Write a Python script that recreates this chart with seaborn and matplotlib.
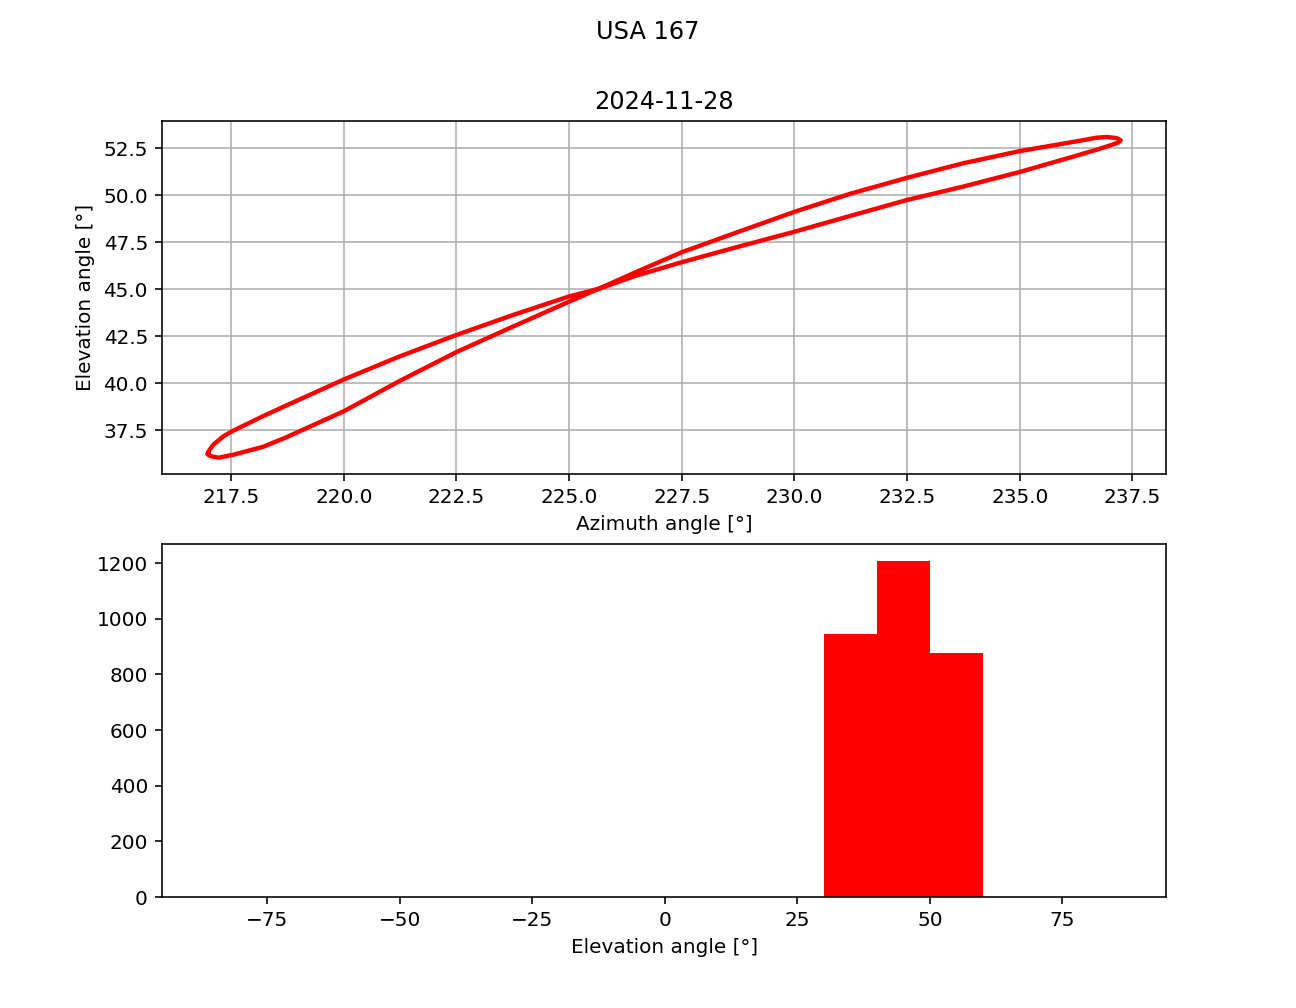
import matplotlib
matplotlib.use("Agg")
import matplotlib.pyplot as plt
import seaborn as sns

# Satellite track (azimuth, elevation), in path order
azimuth = [216.99, 217.02, 217.11, 217.33, 217.55, 218.21, 218.80, 220.00, 221.23,
           222.50, 223.74, 225.00, 225.65,
           226.47, 227.50, 228.75, 230.00, 231.25, 232.50, 233.74, 235.00, 236.19,
           236.70, 237.00, 237.18, 237.24, 237.15, 236.93, 236.70, 236.19, 235.00,
           233.74, 232.50, 231.25, 230.00, 228.75, 227.50, 226.47, 225.65,
           225.00, 223.74, 222.50, 221.23, 220.00, 218.70, 218.21, 217.55, 217.22,
           217.05, 216.98, 216.99]
elevation = [36.29, 36.45, 36.74, 37.18, 37.48, 38.25, 38.90, 40.20, 41.42,
             42.57, 43.62, 44.62, 45.02,
             45.71, 46.44, 47.26, 48.06, 48.91, 49.75, 50.46, 51.24, 52.06,
             52.42, 52.65, 52.80, 52.92, 53.04, 53.10, 53.06, 52.84, 52.35,
             51.70, 50.93, 50.09, 49.12, 48.05, 46.97, 45.90, 45.02,
             44.34, 43.00, 41.66, 40.11, 38.51, 37.10, 36.62, 36.20, 36.04,
             36.12, 36.22, 36.29]

# Elevation histogram (10-degree bins from -90 to 90)
bin_edges = list(range(-90, 100, 10))
bin_counts = [0, 0, 0, 0, 0, 0, 0, 0, 0, 0, 0, 0, 945, 1207, 877, 0, 0, 0]

title_main = "USA 167"
title_date = "2024-11-28"

fig, (ax1, ax2) = plt.subplots(2, 1, figsize=(9, 7), dpi=144)
fig.suptitle(title_main)

sns.lineplot(x=azimuth, y=elevation, sort=False, estimator=None,
             color="red", linewidth=2.2, ax=ax1)
ax1.set_title(title_date)
ax1.set_xlabel("Azimuth angle [°]")
ax1.set_ylabel("Elevation angle [°]")
ax1.grid(True)

centers = [(bin_edges[i] + bin_edges[i + 1]) / 2 for i in range(len(bin_counts))]
sns.histplot(x=centers, weights=bin_counts, bins=bin_edges, color="red",
             alpha=1.0, linewidth=0, ax=ax2)
ax2.set_xlim(-94.8, 94.6)
ax2.set_xlabel("Elevation angle [°]")
ax2.set_ylabel("")

fig.savefig("out.png", dpi=144)
